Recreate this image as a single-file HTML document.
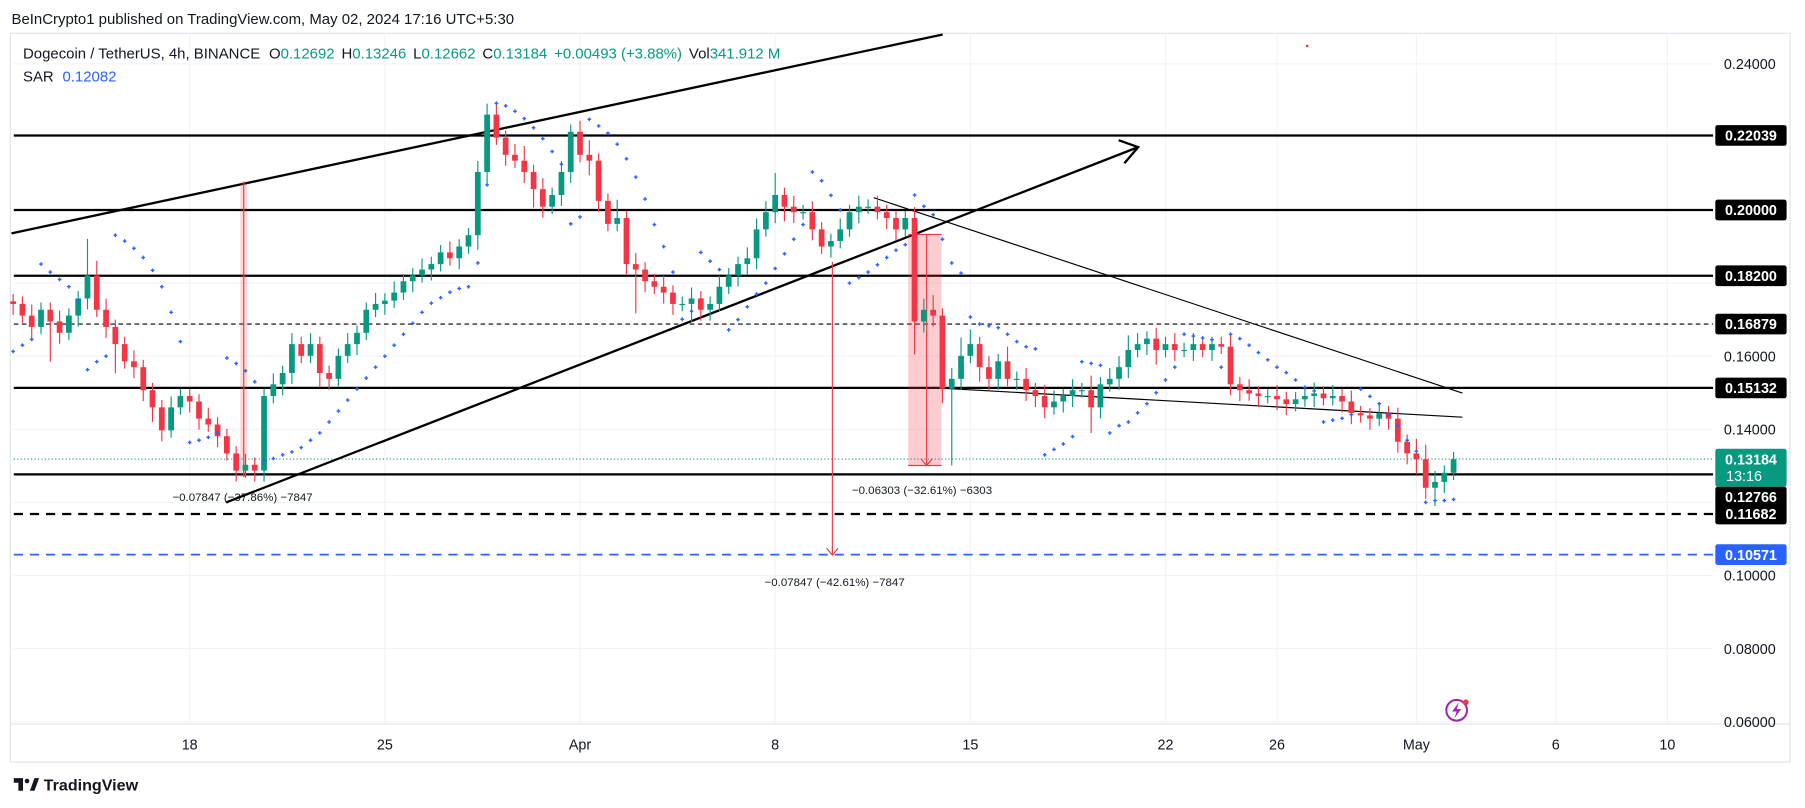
<!DOCTYPE html>
<html><head><meta charset="utf-8"><style>
html,body{margin:0;padding:0;background:#fff;}
svg{display:block;font-family:"Liberation Sans",sans-serif;}
</style></head><body>
<svg id="chart" width="1805" height="808" viewBox="0 0 1570 703" preserveAspectRatio="none" xmlns="http://www.w3.org/2000/svg">
<rect x="0" y="0" width="1570" height="703" fill="#fff"/>
<text x="10" y="21" font-size="13" fill="#131722">BeInCrypto1 published on TradingView.com, May 02, 2024 17:16 UTC+5:30</text>
<rect x="9" y="29" width="1548" height="634" fill="none" stroke="#e0e3eb" stroke-width="1"/>
<g id="grid"></g>
<g id="levels"></g>
<g id="drawings">
  <line x1="10" y1="203" x2="820" y2="30" stroke="#000" stroke-width="2"/>
  <line x1="197" y1="437" x2="990" y2="128" stroke="#000" stroke-width="2"/>
  <polyline points="973,122 990,128 978,142" fill="none" stroke="#000" stroke-width="2"/>
  <line x1="760" y1="172" x2="1272" y2="342" stroke="#000" stroke-width="1"/>
  <line x1="805" y1="337" x2="1272" y2="363" stroke="#000" stroke-width="1"/>
  <rect x="209" y="158" width="6" height="257" fill="#f23645" opacity="0.2"/>
  <line x1="212" y1="158" x2="212" y2="415" stroke="#f23645" stroke-width="1"/>
  <text x="150" y="436" font-size="10" fill="#131722">−0.07847 (−37.86%) −7847</text>
  <line x1="724" y1="228" x2="724" y2="483" stroke="#f23645" stroke-width="1"/>
  <polyline points="719,477 724,483 729,477" fill="none" stroke="#f23645" stroke-width="1"/>
  <text x="665" y="510" font-size="10" fill="#131722">−0.07847 (−42.61%) −7847</text>
  <rect x="790" y="204" width="29" height="201" fill="#f23645" opacity="0.25"/>
  <line x1="790" y1="204" x2="819" y2="204" stroke="#f23645" stroke-width="1"/>
  <line x1="790" y1="405" x2="819" y2="405" stroke="#f23645" stroke-width="1"/>
  <line x1="806" y1="204" x2="806" y2="405" stroke="#f23645" stroke-width="1"/>
  <polyline points="801,399 806,405 811,399" fill="none" stroke="#f23645" stroke-width="1"/>
  <text x="741" y="430" font-size="10" fill="#131722">−0.06303 (−32.61%) −6303</text>
</g>
<g id="candles"></g>
<g id="sar"></g>
<g id="axes"></g>
<text x="20" y="51" font-size="13" fill="#131722">Dogecoin / TetherUS, 4h, BINANCE <tspan dx="4">O</tspan><tspan fill="#089981">0.12692</tspan><tspan dx="6">H</tspan><tspan fill="#089981">0.13246</tspan><tspan dx="6">L</tspan><tspan fill="#089981">0.12662</tspan><tspan dx="6">C</tspan><tspan fill="#089981">0.13184</tspan><tspan dx="6" fill="#089981">+0.00493 (+3.88%)</tspan><tspan dx="6">Vol</tspan><tspan fill="#089981">341.912 M</tspan></text>
<text x="20" y="71" font-size="13" fill="#131722">SAR <tspan dx="4" fill="#2962ff">0.12082</tspan></text>
<rect x="1136" y="39" width="2" height="2" fill="#f23645"/>
<g>
  <circle cx="1267" cy="618" r="9" fill="#fff" stroke="#9c27b0" stroke-width="1.8"/>
  <path d="M1269 611 L1263 619 L1267 619 L1265 625 L1271 617 L1267 617 Z" fill="#9c27b0"/>
  <circle cx="1275" cy="611" r="2.5" fill="#f23645"/>
</g>
<g>
  <path d="M12 677 h8 v11 h-4 v-7 h-4 Z" fill="#131722"/>
  <circle cx="23.5" cy="679.5" r="2" fill="#131722"/>
  <path d="M26 688 l4 -11 h4 l-4 11 Z" fill="#131722"/>
  <text x="38" y="688" font-size="14" font-weight="bold" fill="#131722">TradingView</text>
</g>
</svg>
<script>
// ---- data ----
const closes = [.1743,.1711,.1680,.1727,.1695,.1664,.1711,.1758,.1821,.1727,
.1680,.1633,.1586,.1570,.1507,.1460,.1397,.1460,.1491,.1476,
.1429,.1413,.1381,.1334,.1287,.1303,.1287,.1491,.1523,.1554,
.1633,.1601,.1633,.1554,.1538,.1601,.1633,.1664,.1727,.1743,
.1752,.1774,.1805,.1821,.1837,.1852,.1884,.1868,.1900,.1931,
.2104,.2261,.2198,.2151,.2135,.2104,.2057,.2009,.2041,.2104,
.2214,.2151,.2135,.2025,.1962,.1978,.1852,.1837,.1805,.1790,
.1774,.1743,.1743,.1758,.1727,.1743,.1790,.1821,.1852,.1868,
.1947,.1994,.2041,.2009,.1994,.1994,.1947,.1900,.1915,.1947,
.1994,.2009,.2009,.1994,.1978,.1947,.1978,.1695,.1727,.1711,
.1511,.1538,.1601,.1633,.1570,.1538,.1586,.1538,.1538,.1507,
.1491,.1460,.1476,.1491,.1507,.1507,.1460,.1523,.1538,.1570,
.1617,.1633,.1648,.1617,.1633,.1617,.1617,.1633,.1617,.1633,
.1626,.1523,.1507,.1498,.1491,.1491,.1482,.1469,.1482,.1491,
.1498,.1485,.1491,.1476,.1444,.1438,.1429,.1444,.1429,.1366,
.1334,.1318,.1240,.1256,.1281,.1318];
const firstOpen = 0.1750;
const hiWick = [2,2,3,2,2,3,2,2,10,4, 3,2,2,3,2,2,2,3,2,2, 2,3,2,2,2,3,2,2,3,2, 3,2,3,2,2,2,3,2,2,3,
2,3,2,2,3,2,2,3,2,2, 3,3,3,2,3,4,2,3,2,3, 2,3,4,2,2,5,2,3,2,2, 3,2,2,3,2,2,3,2,2,3,
3,3,6,2,3,2,3,2,2,3, 2,3,2,3,2,2,2,3,3,4, 2,3,5,4,2,3,2,4,2,3, 2,3,3,2,3,2,4,2,3,3,
4,3,2,3,2,3,2,3,2,2, 2,3,2,3,2,2,3,2,2,2, 3,2,3,2,3,2,2,3,2,3, 2,4,4,3,2,2];
const loWick = [3,2,3,2,11,3,2,3,3,2, 3,8,2,3,3,4,3,2,2,3, 3,2,3,2,3,2,3,3,2,3, 3,2,2,4,3,2,2,3,2,2,
3,2,2,3,2,3,2,2,3,2, 4,3,2,3,2,3,5,3,2,3, 3,2,4,3,2,2,3,12,3,2, 3,3,2,5,3,3,2,2,3,3,
3,2,3,4,3,2,3,2,3,2, 2,3,2,2,3,3,2,9,3,3, 4,21,3,2,4,3,3,2,3,3, 3,3,2,3,3,2,7,3,2,3,
3,2,3,4,2,3,2,3,2,3, 2,3,3,2,3,2,3,3,2,2, 3,2,2,3,3,2,3,2,3,3, 3,4,3,5,3,2];
const sarValues = [.1613,.1630,.1646,.1852,.1830,.1810,.1790,.1752,.1563,.1585,
.1600,.1931,.1915,.1895,.1870,.1835,.1790,.1720,.1640,.1364,
.1370,.1378,.1390,.1595,.1580,.1560,.1530,.1315,.1320,.1330,
.1338,.1350,.1370,.1390,.1420,.1450,.1480,.1510,.1540,.1570,
.1600,.1630,.1660,.1690,.1720,.1745,.1760,.1775,.1785,.1790,
.1855,.2069,.2292,.2285,.2270,.2250,.2225,.2195,.2160,.2125,
.1962,.1981,.2248,.2230,.2210,.2180,.2140,.2090,.2030,.1960,
.1900,.1830,.1701,.1723,.1884,.1860,.1837,.1672,.1700,.1735,
.1770,.1800,.1840,.1880,.1920,.1960,.2104,.2080,.2040,.2000,
.1800,.1815,.1830,.1850,.1870,.1890,.1905,.2041,.2010,.1987,
.1920,.1855,.1827,.1707,.1688,.1683,.1678,.1660,.1640,.1626,
.1620,.1330,.1345,.1360,.1380,.1585,.1580,.1575,.1390,.1410,
.1420,.1445,.1470,.1500,.1535,.1570,.1660,.1655,.1650,.1645,
.1570,.1660,.1648,.1630,.1610,.1590,.1570,.1555,.1535,.1515,
.1505,.1420,.1425,.1430,.1440,.1510,.1490,.1470,.1440,.1410,
.1370,.1340,.1200,.1205,.1205,.1208];
const timeLabels = ['18','25','Apr','8','15','22','26','May','6','10'];
const timeDays = [0,7,14,21,28,35,39,44,49,53];
const gridPrices = [0.06,0.08,0.10,0.12,0.14,0.16,0.18,0.20,0.22,0.24];
const plainTickPrices = [0.24,0.16,0.14,0.10,0.08,0.06];
const plainTickLabels = ['0.24000','0.16000','0.14000','0.10000','0.08000','0.06000'];
const levelPrices = [0.22039,0.20,0.182,0.16879,0.15132,0.12766,0.11682,0.10571];
const levelLabels = ['0.22039','0.20000','0.18200','0.16879','0.15132','0.12766','0.11682','0.10571'];
const lastPrice = 0.13184;
const lastLabel = '0.13184';
const countdown = '13:16';

// ---- scales ----
const NS='http://www.w3.org/2000/svg';
function yScale(p){return 182.7+(0.2-p)*3180;}
function xDay(d){return 165+d*24.25;}
function xCandle(i){return xDay(-6.333+i/3);}
function mk(tag,attrs,parent){const e=document.createElementNS(NS,tag);for(const k in attrs)e.setAttribute(k,attrs[k]);parent.appendChild(e);return e;}
const PL=12, PR=1490, PT=30, PB=629;

const grid=document.getElementById('grid');
gridPrices.forEach(p=>{const l=mk('line',{x1:PL,x2:PR,y1:yScale(p),y2:yScale(p),stroke:'#f0f3fa','stroke-width':1},grid);

});
timeDays.forEach(d=>{const l=mk('line',{x1:xDay(d),x2:xDay(d),y1:PT,y2:PB,stroke:'#f0f3fa','stroke-width':1},grid);

});

// levels
const lv=document.getElementById('levels');
const lvStyle=[{w:2,d:''},{w:2,d:''},{w:2,d:''},{w:1,d:'4 3'},{w:2,d:''},{w:2,d:''},{w:2,d:'8 6'},{w:1.6,d:'8 6',c:'#2962ff'}];
levelPrices.forEach((p,k)=>{const s=lvStyle[k];const a={x1:PL,x2:PR,y1:yScale(p),y2:yScale(p),stroke:s.c||'#000','stroke-width':s.w};if(s.d)a['stroke-dasharray']=s.d;
const l=mk('line',a,lv);

});
const pl=mk('line',{x1:PL,x2:PR,y1:yScale(lastPrice),y2:yScale(lastPrice),stroke:'#089981','stroke-width':1,'stroke-dasharray':'1 2'},lv);



// candles
const cg=document.getElementById('candles');
closes.forEach((c,i)=>{
  const o=i===0?firstOpen:closes[i-1];
  const hi=Math.max(o,c)+hiWick[i]/1000, lo=Math.min(o,c)-loWick[i]/1000;
  const col=c>=o?'#089981':'#f23645';const x=xCandle(i);
  const g=mk('g',{},cg);
  
  
  mk('line',{x1:x,x2:x,y1:yScale(hi),y2:yScale(lo),stroke:col,'stroke-width':1},g);
  const yt=yScale(Math.max(o,c)), yb=yScale(Math.min(o,c));
  mk('rect',{x:x-2.5,y:yt,width:5,height:Math.max(1,yb-yt),fill:col},g);
});
// SAR
const sg=document.getElementById('sar');
sarValues.forEach((s,i)=>{const x=xCandle(i),y=yScale(s);
  const p=mk('path',{d:`M${x-1.6} ${y}h3.2M${x} ${y-1.6}v3.2`,stroke:'#2962ff','stroke-width':1.2},sg);
  
  
});

// axes
const ax=document.getElementById('axes');
mk('line',{x1:9,x2:1557,y1:PB+1,y2:PB+1,stroke:'#e0e3eb'},ax);
timeLabels.forEach((t,k)=>{const e=mk('text',{x:xDay(timeDays[k]),y:652,'font-size':12.5,fill:'#131722','text-anchor':'middle'},ax);e.textContent=t;

});
plainTickPrices.forEach((p,k)=>{const e=mk('text',{x:1522,y:yScale(p)+4.5,'font-size':12.5,fill:'#131722','text-anchor':'middle'},ax);e.textContent=plainTickLabels[k];

});
// last price tag first so level tags that collide sit on top/below
const ly=yScale(lastPrice);
const lb=mk('rect',{x:1492,y:ly-9,width:62,height:33,rx:2,fill:'#089981'},ax);


const lt=mk('text',{x:1523,y:ly+4.5,'font-size':12.5,'font-weight':'bold',fill:'#fff','text-anchor':'middle'},ax);lt.textContent=lastLabel;


const ct=mk('text',{x:1517,y:ly+19,'font-size':12.5,fill:'#fff','text-anchor':'middle'},ax);ct.textContent=countdown;


const tagBottomOfLast = ly+24;
levelPrices.forEach((p,k)=>{let y=yScale(p);const bg=k===7?'#2962ff':'#000';
  if(y-9<tagBottomOfLast && y>ly) y=tagBottomOfLast+9;
  const b=mk('rect',{x:1492,y:y-9,width:62,height:18,rx:2,fill:bg},ax);
  
  
  const e=mk('text',{x:1523,y:y+4.5,'font-size':12.5,'font-weight':'bold',fill:'#fff','text-anchor':'middle'},ax);e.textContent=levelLabels[k];
  
  });
</script>
</body></html>
